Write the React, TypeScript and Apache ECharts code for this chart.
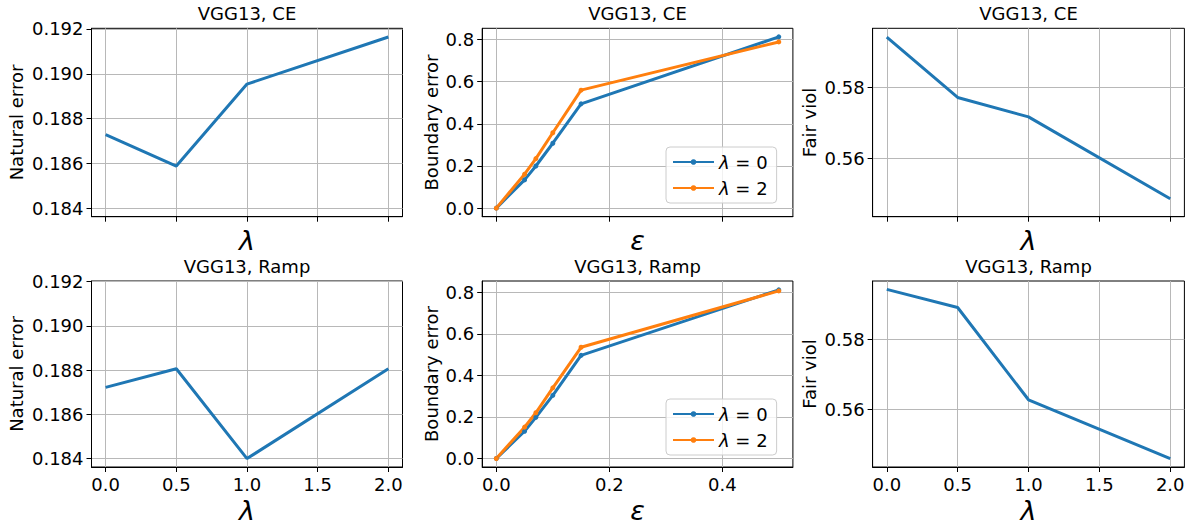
import React, { useEffect, useRef } from 'react';
import * as echarts from 'echarts';

const FONT = 'DejaVu Sans';

// ---- data ----
const lambdas = [0, 0.5, 1, 2];
const ceNatural = [0.18728, 0.18588, 0.18954, 0.19164];
const rampNatural = [0.18722, 0.18806, 0.184, 0.18806];
const ceFair = [0.5943, 0.5772, 0.5717, 0.5485];
const rampFair = [0.5944, 0.5892, 0.5627, 0.5458];

const epsilons = [0, 0.05, 0.07, 0.1, 0.15, 0.5];
const ceBoundaryL0 = [0, 0.134, 0.2, 0.308, 0.495, 0.813];
const ceBoundaryL2 = [0, 0.161, 0.235, 0.358, 0.56, 0.789];
const rampBoundaryL0 = [0, 0.131, 0.198, 0.304, 0.496, 0.811];
const rampBoundaryL2 = [0, 0.151, 0.22, 0.34, 0.535, 0.806];

const lambdaTicks = [0, 0.5, 1, 1.5, 2];
const epsTicks = [0, 0.2, 0.4];
const naturalTicks = [0.184, 0.186, 0.188, 0.19, 0.192];
const boundaryTicks = [0, 0.2, 0.4, 0.6, 0.8];
const fairTicks = [0.56, 0.58];

const titles = ['VGG13, CE', 'VGG13, CE', 'VGG13, CE', 'VGG13, Ramp', 'VGG13, Ramp', 'VGG13, Ramp'];
const seriesNames = ['λ = 0', 'λ = 2'];

const BLUE = '#1f77b4';
const ORANGE = '#ff7f0e';

// ---- layout ----
const colLeft = [91.5, 482.2, 872.6];
const colWidth = [311, 310.7, 311.8];
const rowTop = [28.3, 281];
const rowHeight = [188.4, 188.3];

function xAxis(gi: number, min: number, max: number, ticks: number[], dec: number, showLabels: boolean, name: string, gap: number) {
  return {
    type: 'value', gridIndex: gi, min, max,
    axisLine: { show: true, onZero: false, lineStyle: { color: '#000', width: 1 } },
    axisTick: { show: true, inside: false, length: 5, lineStyle: { color: '#000', width: 1 }, customValues: ticks },
    axisLabel: { show: showLabels, customValues: ticks, formatter: (v: number) => v.toFixed(dec), fontSize: 18, color: '#000', fontFamily: FONT, margin: 8 },
    splitLine: { show: true, lineStyle: { color: '#b8b8b8', width: 1 } },
    name, nameLocation: 'middle', nameGap: gap,
    nameTextStyle: { fontSize: 27, fontStyle: 'italic', fontFamily: FONT, color: '#000' },
  };
}

function yAxis(gi: number, min: number, max: number, ticks: number[], dec: number, name: string, gap: number) {
  return {
    type: 'value', gridIndex: gi, min, max,
    axisLine: { show: true, onZero: false, lineStyle: { color: '#000', width: 1 } },
    axisTick: { show: true, inside: false, length: 5, lineStyle: { color: '#000', width: 1 }, customValues: ticks },
    axisLabel: { show: true, customValues: ticks, formatter: (v: number) => v.toFixed(dec), fontSize: 18, color: '#000', fontFamily: FONT, margin: 8 },
    splitLine: { show: true, lineStyle: { color: '#b8b8b8', width: 1 } },
    name, nameLocation: 'middle', nameGap: gap,
    nameTextStyle: { fontSize: 18, fontFamily: FONT, color: '#000' },
  };
}

function pairs(xs: number[], ys: number[]) {
  return xs.map((x, i) => [x, ys[i]]);
}

function buildOption() {
  const grids: any[] = [];
  const titleList: any[] = [];
  for (let r = 0; r < 2; r++) {
    for (let c = 0; c < 3; c++) {
      grids.push({
        left: colLeft[c], top: rowTop[r], width: colWidth[c], height: rowHeight[r],
        show: true, borderColor: '#000', borderWidth: 1, backgroundColor: 'transparent',
      });
      titleList.push({
        text: titles[r * 3 + c],
        left: colLeft[c] + colWidth[c] / 2,
        top: rowTop[r] - 24,
        textAlign: 'center',
        padding: 0,
        textStyle: { fontSize: 18, fontWeight: 'normal', fontFamily: FONT, color: '#000' },
      });
    }
  }
  const xAxes: any[] = [];
  const yAxes: any[] = [];
  for (let r = 0; r < 2; r++) {
    const bottom = r === 1;
    const gapL = bottom ? 30 : 10;
    xAxes.push(xAxis(r * 3 + 0, -0.1, 2.1, lambdaTicks, 1, bottom, 'λ', gapL));
    xAxes.push(xAxis(r * 3 + 1, -0.025, 0.525, epsTicks, 1, bottom, 'ε', gapL));
    xAxes.push(xAxis(r * 3 + 2, -0.1, 2.1, lambdaTicks, 1, bottom, 'λ', gapL));
    yAxes.push(yAxis(r * 3 + 0, 0.18362, 0.19203, naturalTicks, 3, 'Natural error', 66));
    yAxes.push(yAxis(r * 3 + 1, -0.0407, 0.8537, boundaryTicks, 1, 'Boundary error', 42));
    yAxes.push(yAxis(r * 3 + 2, 0.5434, 0.5968, fairTicks, 2, 'Fair viol', 54));
  }

  const lineSeries = (idx: number, data: number[][], color: string, name: string, marker: boolean) => ({
    type: 'line', name, xAxisIndex: idx, yAxisIndex: idx, data,
    showSymbol: marker, symbol: 'circle', symbolSize: marker ? 5 : 0,
    lineStyle: { color, width: 3 }, itemStyle: { color },
    z: 3, silent: true,
  });

  const series: any[] = [
    lineSeries(0, pairs(lambdas, ceNatural), BLUE, 'natCE', false),
    lineSeries(1, pairs(epsilons, ceBoundaryL0), BLUE, seriesNames[0], true),
    lineSeries(1, pairs(epsilons, ceBoundaryL2), ORANGE, seriesNames[1], true),
    lineSeries(2, pairs(lambdas, ceFair), BLUE, 'fairCE', false),
    lineSeries(3, pairs(lambdas, rampNatural), BLUE, 'natRamp', false),
    lineSeries(4, pairs(epsilons, rampBoundaryL0), BLUE, seriesNames[0], true),
    lineSeries(4, pairs(epsilons, rampBoundaryL2), ORANGE, seriesNames[1], true),
    lineSeries(5, pairs(lambdas, rampFair), BLUE, 'fairRamp', false),
  ];

  const legendBase = (top: number) => ({
    data: seriesNames,
    orient: 'vertical',
    left: 666, top,
    selectedMode: false,
    itemWidth: 41, itemHeight: 7, itemGap: 8, itemTextGap: 14,
    padding: [6, 9, 6, 6],
    borderColor: '#cccccc', borderWidth: 1, borderRadius: 4,
    backgroundColor: 'rgba(255,255,255,0.8)',
    formatter: (n: string) => '{i|λ}{s| = }' + n.slice(n.length - 1),
    textStyle: {
      fontSize: 18, fontFamily: FONT, color: '#000',
      rich: {
        i: { fontSize: 18, fontStyle: 'italic', fontFamily: FONT, color: '#000' },
        s: { fontSize: 18, fontFamily: FONT, color: '#000' },
      },
    },
  });

  return {
    animation: false,
    backgroundColor: '#fff',
    title: titleList,
    grid: grids,
    xAxis: xAxes,
    yAxis: yAxes,
    legend: [legendBase(147), legendBase(399)],
    series,
  };
}

export default function App() {
  const ref = useRef<HTMLDivElement>(null);
  useEffect(() => {
    document.body.style.margin = '0';
    const chart = echarts.init(ref.current!, null, { renderer: 'svg' });
    chart.setOption(buildOption() as any);
    return () => chart.dispose();
  }, []);
  return <div ref={ref} style={{ width: 1189, height: 525 }} />;
}
